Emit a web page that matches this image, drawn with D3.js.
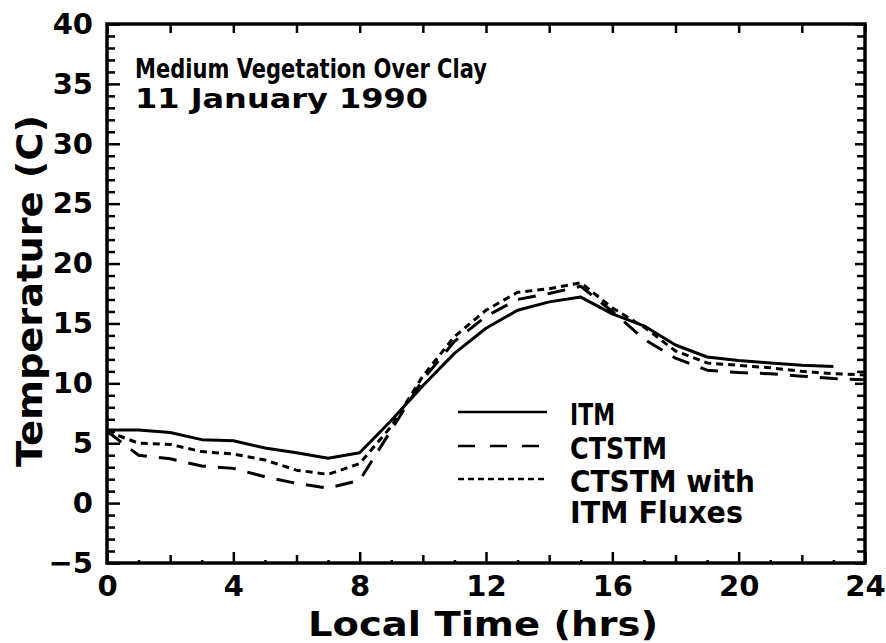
<!DOCTYPE html>
<html>
<head>
<meta charset="utf-8">
<script src="https://cdn.jsdelivr.net/npm/d3@7"></script>
<style>
  body { margin: 0; background: #fff; }
  text { font-family: "DejaVu Sans", sans-serif; font-weight: bold; fill: #000; }
</style>
</head>
<body>
<div id="chart"></div>
<script>
// hours and temperatures
var hours = d3.range(0, 25);
var itm    = [6.1, 6.1, 5.9, 5.3, 5.2, 4.6, 4.2, 3.75, 4.2, 6.9, 9.8, 12.5, 14.6, 16.1, 16.8, 17.2, 15.8, 14.8, 13.2, 12.2, 11.9, 11.7, 11.5, 11.4];
var ctstm  = [6.0, 4.0, 3.7, 3.1, 2.9, 2.2, 1.65, 1.25, 1.9, 6.1, 10.3, 13.5, 15.6, 17.0, 17.5, 18.1, 16.0, 13.7, 12.1, 11.1, 10.9, 10.8, 10.6, 10.4, 10.3];
var fluxes = [6.0, 5.0, 4.9, 4.3, 4.1, 3.6, 2.75, 2.4, 3.3, 6.4, 10.6, 13.9, 16.1, 17.6, 17.9, 18.4, 16.3, 14.7, 12.7, 11.7, 11.5, 11.3, 11.0, 10.8, 10.7];

var xTicks = [0, 4, 8, 12, 16, 20, 24];
var xMinor = [2, 6, 10, 14, 18, 22];
var xSmall = d3.range(1, 24, 2);
var yTicks = [-5, 0, 5, 10, 15, 20, 25, 30, 35, 40];
var yMinor = d3.range(-5, 41).filter(function(v){ return v % 5 != 0; });

var series = [
  {name: "ITM", values: itm, dash: null},
  {name: "CTSTM", values: ctstm, dash: "18,12"},
  {name: "CTSTM  with", values: fluxes, dash: "7,5"}
];

var w = 886, h = 643;
var svg = d3.select("#chart").append("svg")
    .attr("width", w)
    .attr("height", h);

// plot box (window.top is reserved, so use a margin object)
var box = {left: 107, right: 865, top: 24, bottom: 563};

var x = d3.scaleLinear().domain([0, 24]).range([box.left, box.right]);
var y = d3.scaleLinear().domain([-5, 40]).range([box.bottom, box.top]);

// axes, ticks pointing inward
function styleAxis(g){
  g.select(".domain").remove();
  g.selectAll("line").attr("stroke", "#000").attr("stroke-width", 2.5);
  g.selectAll("text").attr("font-family", "DejaVu Sans").attr("font-weight", "bold").attr("fill", "#000");
}

svg.append("g")
    .attr("transform", "translate(0," + box.bottom + ")")
    .call(d3.axisBottom(x).tickValues(xTicks).tickSizeInner(-11).tickSizeOuter(0).tickPadding(12).tickFormat(d3.format("d")))
    .call(styleAxis)
    .selectAll("text").attr("font-size", 29);

svg.append("g")
    .attr("transform", "translate(0," + box.bottom + ")")
    .call(d3.axisBottom(x).tickValues(xMinor).tickSizeInner(-8).tickSizeOuter(0).tickFormat(""))
    .call(styleAxis);

svg.append("g")
    .attr("transform", "translate(0," + box.bottom + ")")
    .call(d3.axisBottom(x).tickValues(xSmall).tickSizeInner(-3).tickSizeOuter(0).tickFormat(""))
    .call(styleAxis);

svg.append("g")
    .attr("transform", "translate(0," + box.top + ")")
    .call(d3.axisTop(x).tickValues(xTicks.concat(xMinor)).tickSizeInner(-9).tickSizeOuter(0).tickFormat(""))
    .call(styleAxis);

svg.append("g")
    .attr("transform", "translate(" + box.left + ",0)")
    .call(d3.axisLeft(y).tickValues(yTicks).tickSizeInner(-13).tickSizeOuter(0).tickPadding(14).tickFormat(d3.format("d")))
    .call(styleAxis)
    .selectAll("text").attr("font-size", 29);

svg.append("g")
    .attr("transform", "translate(" + box.left + ",0)")
    .call(d3.axisLeft(y).tickValues(yMinor).tickSizeInner(-8).tickSizeOuter(0).tickFormat(""))
    .call(styleAxis);

svg.append("g")
    .attr("transform", "translate(" + box.right + ",0)")
    .call(d3.axisRight(y).tickValues(yTicks).tickSizeInner(-10).tickSizeOuter(0).tickFormat(""))
    .call(styleAxis);

svg.append("g")
    .attr("transform", "translate(" + box.right + ",0)")
    .call(d3.axisRight(y).tickValues(yMinor).tickSizeInner(-8).tickSizeOuter(0).tickFormat(""))
    .call(styleAxis);

// frame
svg.append("rect")
    .attr("x", box.left).attr("y", box.top)
    .attr("width", box.right - box.left).attr("height", box.bottom - box.top)
    .attr("fill", "none").attr("stroke", "#000").attr("stroke-width", 3.5);

// curves
var line = d3.line()
    .x(function(d, i){ return x(hours[i]); })
    .y(function(d){ return y(d); });

for(var i = 0; i < series.length; i++){
  svg.append("path")
      .datum(series[i].values)
      .attr("fill", "none")
      .attr("stroke", "#000")
      .attr("stroke-width", 3)
      .attr("stroke-linejoin", "round")
      .attr("stroke-dasharray", series[i].dash)
      .attr("d", line);
}

// legend
var legY = [412, 446, 479];
var legText = [["ITM", 45], ["CTSTM", 97], ["CTSTM  with", 185]];
for(var j = 0; j < series.length; j++){
  svg.append("line")
      .attr("x1", 458).attr("x2", 547)
      .attr("y1", legY[j]).attr("y2", legY[j])
      .attr("stroke", "#000")
      .attr("stroke-width", 2.5)
      .attr("stroke-dasharray", j == 1 ? "17,15" : (j == 2 ? "6,4" : null));
  svg.append("text")
      .attr("x", 570).attr("y", legY[j] + 13)
      .attr("font-size", 30)
      .attr("textLength", legText[j][1])
      .attr("lengthAdjust", "spacingAndGlyphs")
      .text(legText[j][0]);
}
svg.append("text")
    .attr("x", 570).attr("y", 523)
    .attr("font-size", 30)
    .attr("textLength", 173)
    .attr("lengthAdjust", "spacingAndGlyphs")
    .text("ITM  Fluxes");

// title
svg.append("text")
    .attr("x", 135).attr("y", 78)
    .attr("font-size", 27)
    .attr("textLength", 352)
    .attr("lengthAdjust", "spacingAndGlyphs")
    .text("Medium  Vegetation  Over  Clay");
svg.append("text")
    .attr("x", 135).attr("y", 108)
    .attr("font-size", 27)
    .attr("textLength", 293)
    .attr("lengthAdjust", "spacingAndGlyphs")
    .text("11  January  1990");

// axis titles
svg.append("text")
    .attr("x", 483).attr("y", 636)
    .attr("text-anchor", "middle")
    .attr("font-size", 33)
    .attr("textLength", 350)
    .attr("lengthAdjust", "spacingAndGlyphs")
    .text("Local  Time  (hrs)");

svg.append("text")
    .attr("transform", "translate(42,291) rotate(-90)")
    .attr("text-anchor", "middle")
    .attr("font-size", 36)
    .attr("textLength", 352)
    .attr("lengthAdjust", "spacingAndGlyphs")
    .text("Temperature  (C)");
</script>
</body>
</html>
